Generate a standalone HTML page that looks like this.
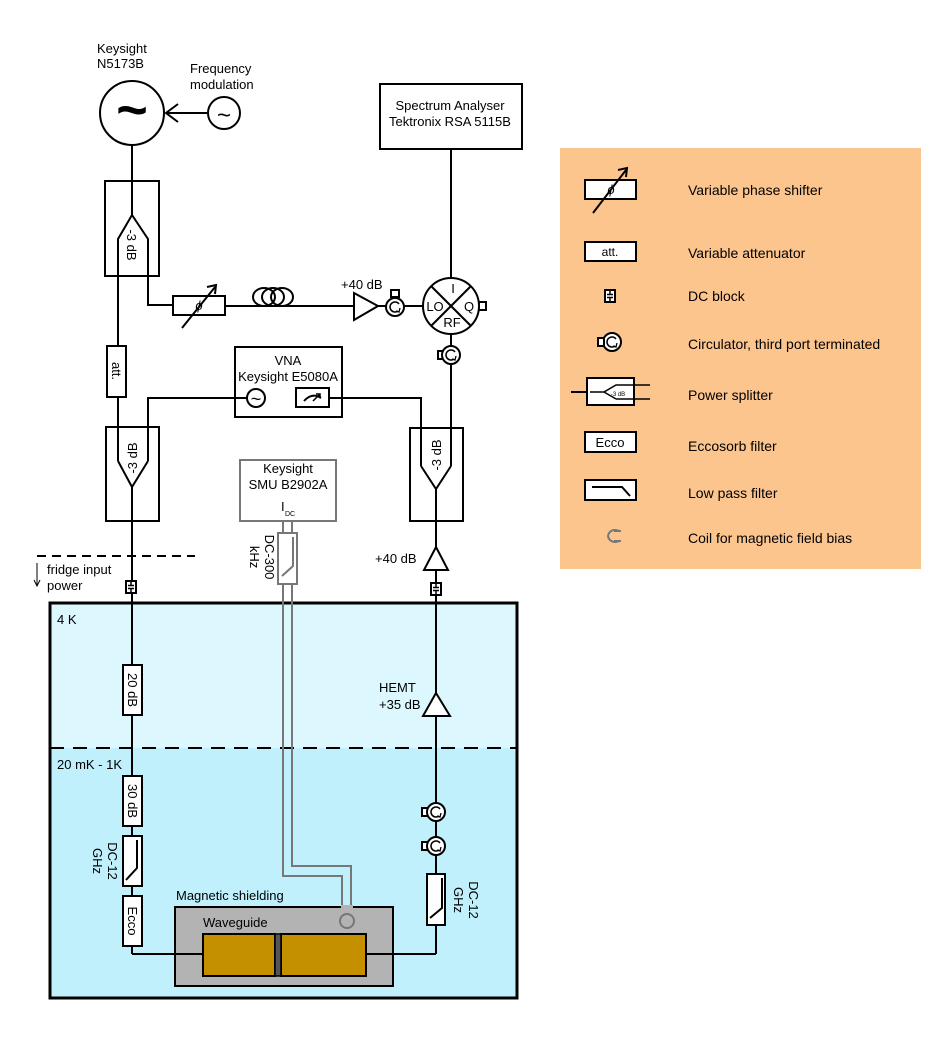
<!DOCTYPE html>
<html><head><meta charset="utf-8"><style>
html,body{margin:0;padding:0;background:#fff}
svg{display:block}
text{font-family:"Liberation Sans",sans-serif;font-size:13px;fill:#000}
</style></head><body>
<svg width="937" height="1047" viewBox="0 0 937 1047" xmlns="http://www.w3.org/2000/svg">
<defs>
<g id="circ">
<circle cx="0" cy="0" r="9" fill="#fff" stroke="#000" stroke-width="2"/>
<path d="M4,-3 A5,5 0 1 0 3,4" fill="none" stroke="#000" stroke-width="1.5"/>
<path d="M1,4 L4,5 L5,1" fill="none" stroke="#000" stroke-width="1.3"/>
</g>
<g id="dcb">
<rect x="-5" y="-6" width="10" height="12" fill="#fff" stroke="#000" stroke-width="2"/>
<path d="M-3,-1.5 H3 M-3,1.5 H3 M0,-6 V-1.5 M0,1.5 V6" stroke="#000" stroke-width="1.5"/>
</g>
</defs>

<rect x="50" y="603" width="467" height="145" fill="#dcf7fd"/>
<rect x="50" y="748" width="467" height="250" fill="#bff0fc"/>
<rect x="50" y="603" width="467" height="395" fill="none" stroke="#000" stroke-width="3"/>
<line x1="50" y1="748" x2="517" y2="748" stroke="#000" stroke-width="2" stroke-dasharray="14,9"/>
<text x="57" y="624">4 K</text>
<text x="57" y="769">20 mK - 1K</text>

<g stroke="#000" stroke-width="2" fill="none">
<circle cx="132" cy="113" r="32" fill="#fff"/>
<circle cx="224" cy="113" r="16" fill="#fff"/>
<line x1="208" y1="113" x2="166" y2="113"/>
<path d="M178,104 L166,113 L178,122"/>
<line x1="132" y1="145" x2="132" y2="215"/>
<rect x="105" y="181" width="54" height="95"/>
<path d="M118,346 V239 L132,215 L148,239 V305 H173"/>
<rect x="173" y="296" width="52" height="19" fill="#fff"/>
<line x1="182" y1="328" x2="215" y2="287"/>
<path d="M207,287 L216,285 L215,294"/>
<line x1="225" y1="306" x2="354" y2="306"/>
<ellipse cx="264" cy="297" rx="11" ry="9"/>
<ellipse cx="273" cy="297" rx="11" ry="9"/>
<ellipse cx="282" cy="297" rx="11" ry="9"/>
<path d="M354,293 L378,306 L354,320 Z" fill="#fff"/>
<line x1="378" y1="306" x2="423" y2="306"/>
<rect x="391" y="290" width="8" height="7" fill="#fff"/>
<line x1="451" y1="149" x2="451" y2="278"/>
<circle cx="451" cy="306" r="28" fill="#fff"/>
<line x1="431" y1="286" x2="471" y2="326"/>
<line x1="471" y1="286" x2="431" y2="326"/>
<rect x="479" y="302" width="7" height="8" fill="#fff"/>
<line x1="451" y1="334" x2="451" y2="466"/>
<rect x="438" y="351" width="7" height="8" fill="#fff"/>
<rect x="380" y="84" width="142" height="65" fill="#fff"/>
<rect x="107" y="346" width="19" height="51" fill="#fff"/>
<line x1="118" y1="397" x2="118" y2="461"/>
<rect x="235" y="347" width="107" height="70" fill="#fff"/>
<circle cx="256" cy="398" r="9"/>
<rect x="296" y="388" width="33" height="19"/>
<path d="M304,401 Q312,392 321,398"/>
<path d="M313,401 L320,394 M316,394 H320 V398" stroke-width="1.5"/>
<path d="M247,398 H148 V461"/>
<path d="M329,398 H421 V466"/>
<rect x="106" y="427" width="53" height="94"/>
<path d="M118,461 L132,487 L148,461"/>
<rect x="410" y="428" width="53" height="93"/>
<path d="M421,466 L436,489 L451,466"/>
<line x1="132" y1="487" x2="132" y2="954"/>
<path d="M132,954 H203"/>
<rect x="123" y="665" width="19" height="50" fill="#fff"/>
<rect x="123" y="776" width="19" height="50" fill="#fff"/>
<rect x="123" y="836" width="19" height="50" fill="#fff"/>
<path d="M137,840 V868 L126,880"/>
<rect x="123" y="896" width="19" height="50" fill="#fff"/>
<line x1="436" y1="489" x2="436" y2="954"/>
<path d="M436,547 L448,570 L424,570 Z" fill="#fff"/>
<path d="M436,693 L450,716 L423,716 Z" fill="#fff"/>
<rect x="427" y="874" width="18" height="51" fill="#fff"/>
<path d="M442,878 V908 L430,918"/>
<path d="M366,954 H436"/>
<rect x="422" y="808" width="6" height="8" fill="#fff"/>
<rect x="422" y="842" width="6" height="8" fill="#fff"/>
</g>
<use href="#circ" x="395" y="307"/>
<use href="#circ" x="451" y="355"/>
<use href="#circ" x="436" y="812"/>
<use href="#circ" x="436" y="846"/>
<use href="#dcb" x="131" y="587"/>
<use href="#dcb" x="436" y="589"/>

<rect x="175" y="907" width="218" height="79" fill="#b3b3b3" stroke="#000" stroke-width="2"/>
<line x1="175" y1="954" x2="203" y2="954" stroke="#000" stroke-width="2"/>
<line x1="366" y1="954" x2="393" y2="954" stroke="#000" stroke-width="2"/>
<rect x="203" y="934" width="72" height="42" fill="#c49000" stroke="#000" stroke-width="2"/>
<rect x="281" y="934" width="85" height="42" fill="#c49000" stroke="#000" stroke-width="2"/>
<rect x="275" y="934" width="6" height="42" fill="#555" stroke="#000" stroke-width="1.5"/>
<text x="176" y="900">Magnetic shielding</text>
<text x="203" y="927">Waveguide</text>

<g stroke="#777" stroke-width="2" fill="none">
<rect x="240" y="460" width="96" height="61" fill="#fff"/>
<path d="M283,521 V876 H342 V912"/>
<path d="M292,521 V866 H351 V912"/>
<circle cx="347" cy="921" r="7"/>
<rect x="278" y="533" width="19" height="51" fill="#fff"/>
<path d="M293,537 V566 L282,576"/>
</g>
<rect x="341" y="905" width="12" height="8" fill="#b3b3b3"/>

<line x1="37" y1="556" x2="195" y2="556" stroke="#000" stroke-width="2" stroke-dasharray="9,6"/>
<line x1="37" y1="563" x2="37" y2="585" stroke="#000" stroke-width="1"/>
<path d="M34,580 L37,586 L40,580" fill="none" stroke="#000" stroke-width="1"/>

<text x="97" y="53">Keysight</text>
<text x="97" y="68">N5173B</text>
<text x="190" y="73">Frequency</text>
<text x="190" y="89">modulation</text>
<text x="132" y="128" text-anchor="middle" style="font-size:54px;font-weight:bold">~</text>
<text x="224" y="123" text-anchor="middle" style="font-size:24px">~</text>
<text x="256" y="405" text-anchor="middle" style="font-size:18px">~</text>
<text x="450" y="110" text-anchor="middle">Spectrum Analyser</text>
<text x="450" y="126" text-anchor="middle">Tektronix RSA 5115B</text>
<text x="288" y="365" text-anchor="middle">VNA</text>
<text x="288" y="381" text-anchor="middle">Keysight E5080A</text>
<text x="288" y="473" text-anchor="middle" fill="#333">Keysight</text>
<text x="288" y="489" text-anchor="middle">SMU B2902A</text>
<text x="281" y="511">I</text><text x="285" y="516" style="font-size:7px">DC</text>
<text x="199" y="310" text-anchor="middle" style="font-style:italic">ϕ</text>
<text x="341" y="289">+40 dB</text>
<text x="453" y="293" text-anchor="middle">I</text>
<text x="435" y="311" text-anchor="middle">LO</text>
<text x="469" y="311" text-anchor="middle">Q</text>
<text x="452" y="327" text-anchor="middle">RF</text>
<text x="375" y="563">+40 dB</text>
<text x="379" y="692">HEMT</text>
<text x="379" y="709">+35 dB</text>
<text x="47" y="574">fridge input</text>
<text x="47" y="590">power</text>
<text transform="translate(127,245) rotate(90)" text-anchor="middle">-3 dB</text>
<text transform="translate(112,371) rotate(90)" text-anchor="middle">att.</text>
<text transform="translate(137,458) rotate(-90)" text-anchor="middle">-3 dB</text>
<text transform="translate(441,455) rotate(-90)" text-anchor="middle">-3 dB</text>
<text transform="translate(128,690) rotate(90)" text-anchor="middle">20 dB</text>
<text transform="translate(128,801) rotate(90)" text-anchor="middle">30 dB</text>
<text transform="translate(128,921) rotate(90)" text-anchor="middle">Ecco</text>
<text transform="translate(108,861) rotate(90)" text-anchor="middle">DC-12</text>
<text transform="translate(93,861) rotate(90)" text-anchor="middle">GHz</text>
<text transform="translate(265,557) rotate(90)" text-anchor="middle">DC-300</text>
<text transform="translate(250,557) rotate(90)" text-anchor="middle">kHz</text>
<text transform="translate(469,900) rotate(90)" text-anchor="middle">DC-12</text>
<text transform="translate(454,900) rotate(90)" text-anchor="middle">GHz</text>

<rect x="560" y="148" width="361" height="421" fill="#fdc58e"/>
<g stroke="#000" stroke-width="2" fill="#fff">
<rect x="585" y="180" width="51" height="19"/>
<line x1="593" y1="213" x2="626" y2="170" fill="none"/>
<path d="M618,170 L627,168 L626,177" fill="none"/>
<rect x="585" y="242" width="51" height="19"/>
<line x1="571" y1="392" x2="590" y2="392" fill="none"/>
<rect x="587" y="378" width="47" height="27"/>
<path d="M590,392 H604 L616,385 H650 M616,399 H650 M604,392 L616,399" fill="none" stroke-width="1.5"/>
<rect x="585" y="432" width="51" height="20"/>
<rect x="585" y="480" width="51" height="20"/>
<path d="M592,487 H622 L630,496" fill="none"/>
</g>
<use href="#dcb" x="610" y="296"/>
<use href="#circ" x="612" y="342"/>
<rect x="598" y="338" width="6" height="8" fill="#fff" stroke="#000" stroke-width="2"/>
<path d="M619,531 A7,6 0 1 0 619,541 M614,531 H621 M614,541 H621" fill="none" stroke="#777" stroke-width="2"/>
<text x="611" y="194" text-anchor="middle" style="font-style:italic">ϕ</text>
<text x="610" y="256" text-anchor="middle" style="font-size:12px">att.</text>
<text x="618" y="396" text-anchor="middle" style="font-size:6px">-3 dB</text>
<text x="610" y="447" text-anchor="middle">Ecco</text>
<text x="688" y="195" style="font-size:14px">Variable phase shifter</text>
<text x="688" y="258" style="font-size:14px">Variable attenuator</text>
<text x="688" y="301" style="font-size:14px">DC block</text>
<text x="688" y="349" style="font-size:14px">Circulator, third port terminated</text>
<text x="688" y="400" style="font-size:14px">Power splitter</text>
<text x="688" y="451" style="font-size:14px">Eccosorb filter</text>
<text x="688" y="498" style="font-size:14px">Low pass filter</text>
<text x="688" y="543" style="font-size:14px">Coil for magnetic field bias</text>
</svg>
</body></html>
